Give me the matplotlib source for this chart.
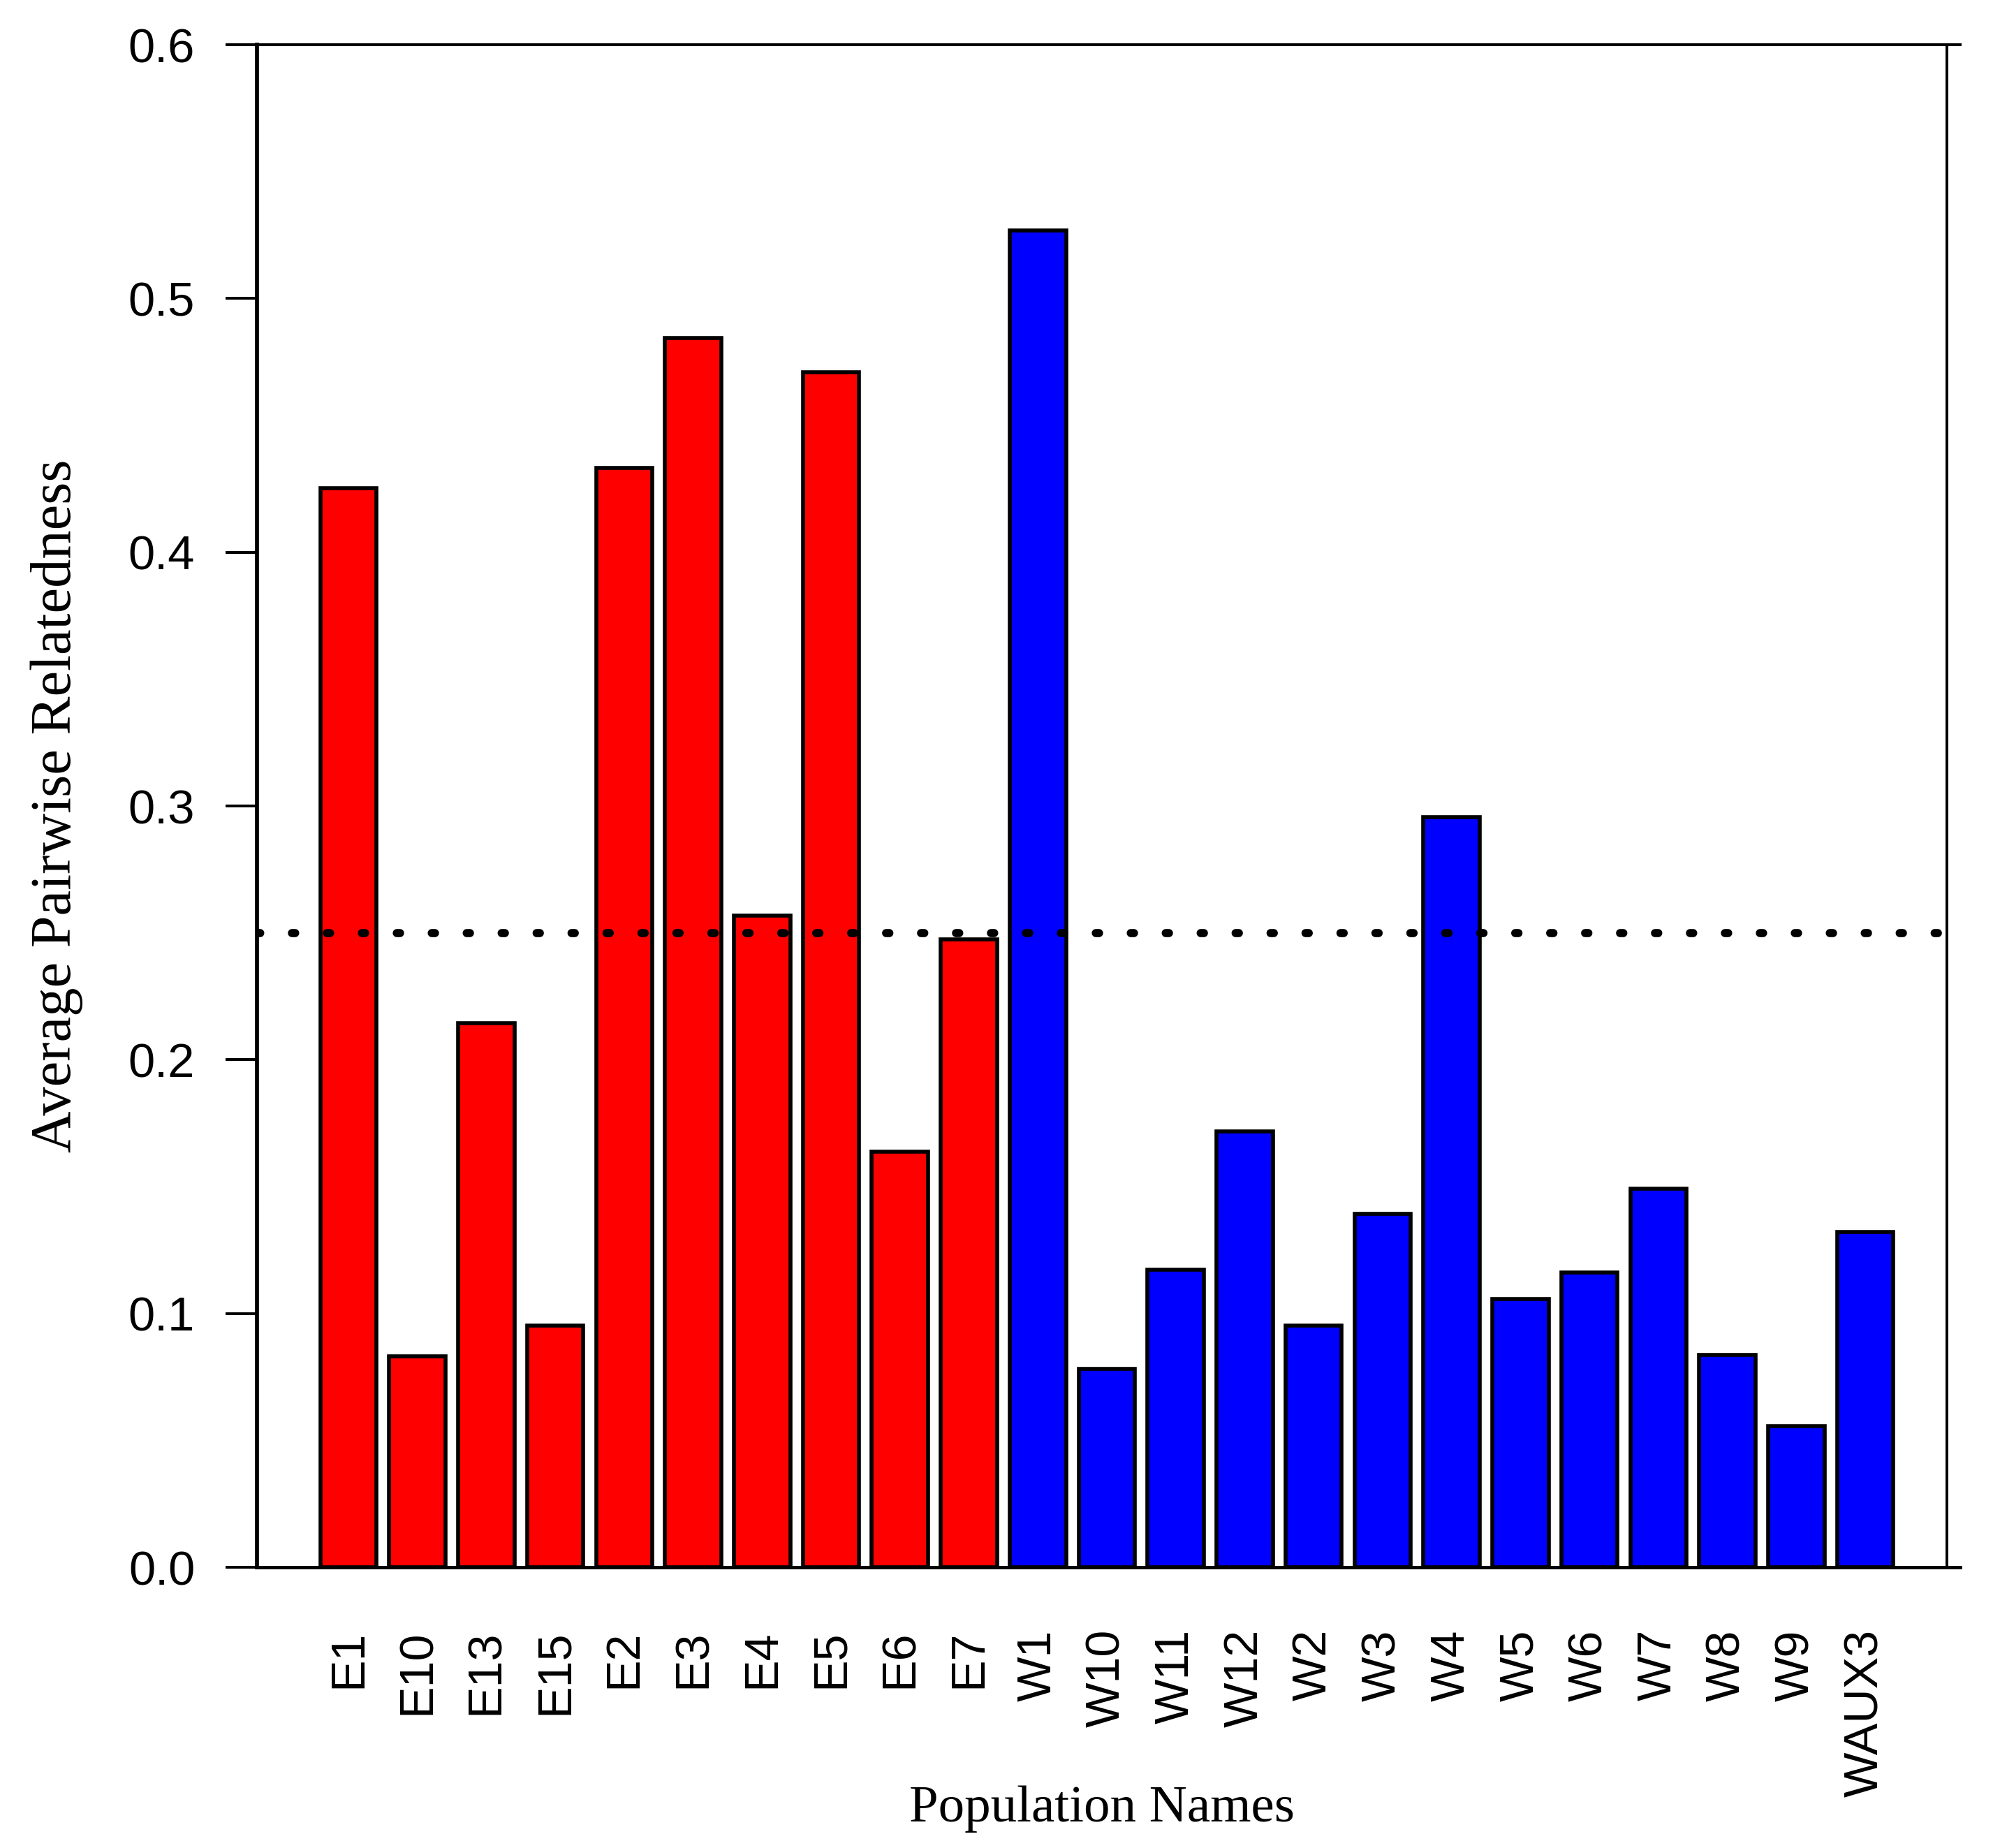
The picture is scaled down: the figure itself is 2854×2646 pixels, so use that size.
"""
Bar chart of average pairwise relatedness per population
"""

import matplotlib
matplotlib.use('Agg')
import matplotlib.pyplot as plt
import numpy as np

# Population names and values
names = ['E1', 'E10', 'E13', 'E15', 'E2', 'E3', 'E4', 'E5', 'E6', 'E7', \
         'W1', 'W10', 'W11', 'W12', 'W2', 'W3', 'W4', 'W5', 'W6', 'W7', \
         'W8', 'W9', 'WAUX3']
relatedness = [0.4252, 0.0831, 0.2144, 0.0952, 0.4332, 0.4843, 0.2569, \
               0.4708, 0.1638, 0.2474, \
               0.5269, 0.0781, 0.1172, 0.1718, 0.0952, 0.1392, 0.2955, \
               0.1057, 0.1162, 0.1492, 0.0836, 0.0556, 0.1322]
groups = ['E'] * 10 + ['W'] * 13
threshold = 0.25
yticks = [0.0, 0.1, 0.2, 0.3, 0.4, 0.5, 0.6]

group_colors = {'E': '#FF0000', 'W': '#0000FF'}
colors = [group_colors[g] for g in groups]

plt.rcParams['font.family'] = ['Liberation Sans', 'DejaVu Sans']

fig = plt.figure(figsize=(2854 / 300, 2646 / 300), dpi=300)
ax = fig.add_axes([0.1289, 0.1519, 0.9769 - 0.1289, 0.9758 - 0.1519])

x = np.arange(len(names))
ax.bar(x, relatedness, width=0.816, color=colors, edgecolor='black', \
       linewidth=1.35, zorder=2)

# Dotted reference line
ax.axhline(threshold, color='black', linewidth=2.8, \
           linestyle=(0, (0.4, 3.89)), dash_capstyle='round', zorder=3)

ax.set_xlim(-1.327, 22 + 1.185)
ax.set_ylim(0, 0.6)

ax.set_yticks(yticks)
ax.set_yticklabels(['%.1f' % v for v in yticks])
ax.set_xticks(x)
ax.set_xticklabels(names, rotation=90)

ax.tick_params(axis='y', direction='out', length=10.8, width=0.96, \
               pad=10.5, labelsize=16.5, colors='black')
ax.tick_params(axis='x', length=0, pad=21.4, labelsize=16.4)

# Frame
ax.spines['left'].set_linewidth(1.37)
ax.spines['bottom'].set_linewidth(1.15)
ax.spines['top'].set_linewidth(0.96)
ax.spines['right'].set_linewidth(0.96)
ax.spines['top'].set_bounds(-1.327, 23.185 + 0.19)
ax.spines['bottom'].set_bounds(-1.327, 23.185 + 0.19)

ax.set_ylabel('Average Pairwise Relatedness', family='Liberation Serif', \
              fontsize=19.8)
ax.yaxis.set_label_coords(-0.1029, 0.5)
ax.set_xlabel('Population Names', family='Liberation Serif', fontsize=18)
ax.xaxis.set_label_coords(0.5, -0.1435)

plt.savefig('out.png', dpi=300)
plt.close(fig)
